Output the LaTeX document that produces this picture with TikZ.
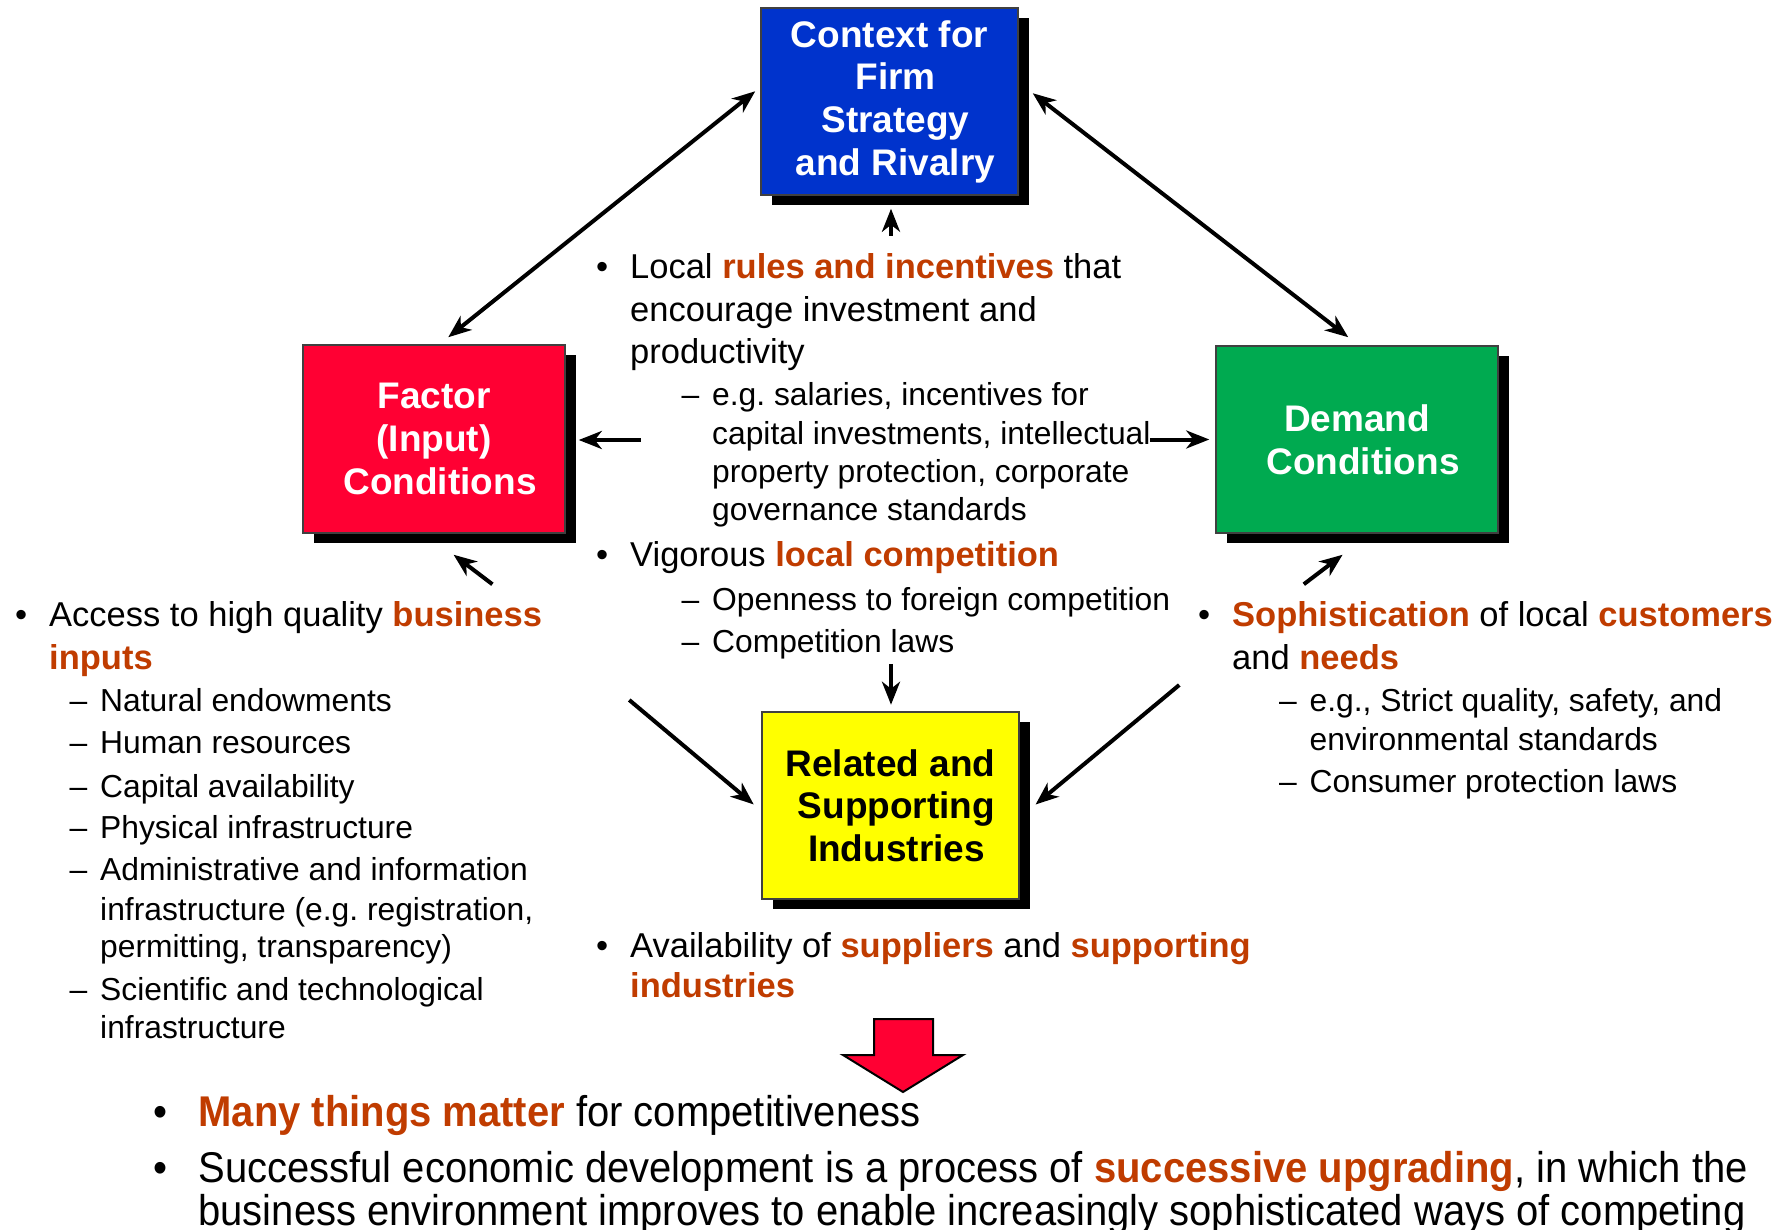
\documentclass[tikz,border=0pt]{standalone}
\usepackage{fontspec}
\setmainfont{Liberation Sans}
\newfontfamily\narrowsans[FakeStretch=0.93]{Liberation Sans}
\usetikzlibrary{arrows.meta,shadows}
\definecolor{rivalryblue}{RGB}{0,51,204}
\definecolor{factorred}{RGB}{255,0,51}
\definecolor{demandgreen}{RGB}{0,170,80}
\definecolor{relatedyellow}{RGB}{255,255,0}
\definecolor{hot}{RGB}{192,60,0}
\frenchspacing

\begin{document}
\begin{tikzpicture}[x=1pt,y=-1pt,
  box/.style={draw=black!75, line width=1.5pt, align=center, inner sep=0pt,
    font=\bfseries\fontsize{37}{42.7}\selectfont,
    drop shadow={shadow xshift=10.5pt, shadow yshift=-10pt, opacity=1, fill=black}},
  main/.style={anchor=base west, inner sep=0pt, yshift=-2.3pt, font=\fontsize{34.5}{41}\selectfont},
  sub/.style={anchor=base west, inner sep=0pt, yshift=-2.3pt, font=\fontsize{31.8}{38}\selectfont},
  closing/.style={anchor=base west, inner sep=0pt, yshift=-2.3pt, font=\narrowsans\fontsize{43}{43}\selectfont},
  arr/.style={line width=4pt, -{Stealth[length=23pt, width=18pt, inset=7pt]}},
  twoway/.style={line width=4pt, {Stealth[length=23pt, width=18pt, inset=7pt]}-{Stealth[length=23pt, width=18pt, inset=7pt]}}]

\def\hilite#1{{\bfseries\color{hot}#1}}
\def\bulmark{\llap{\textbullet\hspace{22pt}}}
\def\bigbul{\llap{\textbullet\hspace{31pt}}}
\def\subdash{\llap{\textendash\hspace{13pt}}}
\def\nudge{\hspace*{12pt}}

\fill[white] (0,0) rectangle (1787,1230);
\useasboundingbox (0,0) rectangle (1787,1230);

\node[box, fill=rivalryblue, text=white, minimum width=257pt, minimum height=187pt] (rivalry) at (889.5,101.5) {Context for\\\nudge Firm\\\nudge Strategy\\\nudge and Rivalry};
\node[box, fill=factorred, text=white, minimum width=262pt, minimum height=188pt] (factor) at (434,439) {Factor\\(Input)\\\nudge Conditions};
\node[box, fill=demandgreen, text=white, minimum width=282pt, minimum height=187pt] (demand) at (1357,439.5) {Demand\\\nudge Conditions};
\node[box, fill=relatedyellow, text=black, minimum width=257pt, minimum height=187pt] (related) at (890.5,805.5) {Related and\\\nudge Supporting\\\nudge Industries};

\node[main] (c1) at (630,276) {\bulmark Local \hilite{rules and incentives} that};
\node[main] (c2) at (630,319) {encourage investment and};
\node[main] (c3) at (630,361) {productivity};
\node[sub] (c4) at (712,403) {\subdash e.g. salaries, incentives for};
\node[sub] (c5) at (712,442.5) {capital investments, intellectual};
\node[sub] (c6) at (712,480) {property protection, corporate};
\node[sub] (c7) at (712,518.5) {governance standards};
\node[main] (c8) at (630,564) {\bulmark Vigorous \hilite{local competition}};
\node[sub] (c9) at (712,608) {\subdash Openness to foreign competition};
\node[sub] (c10) at (712,650) {\subdash Competition laws};

\node[main] (f1) at (49,624.5) {\bulmark Access to high quality \hilite{business}};
\node[main] (f2) at (49,667) {\hilite{inputs}};
\node[sub] (f3) at (100,709) {\subdash Natural endowments};
\node[sub] (f4) at (100,751.5) {\subdash Human resources};
\node[sub] (f5) at (100,795) {\subdash Capital availability};
\node[sub] (f6) at (100,836) {\subdash Physical infrastructure};
\node[sub] (f7) at (100,878) {\subdash Administrative and information};
\node[sub] (f8) at (100,918) {infrastructure (e.g. registration,};
\node[sub] (f9) at (100,955.5) {permitting, transparency)};
\node[sub] (f10) at (100,997.7) {\subdash Scientific and technological};
\node[sub] (f11) at (100,1036.4) {infrastructure};

\node[main] (d1) at (1232,624.5) {\bulmark \hilite{Sophistication} of local \hilite{customers}};
\node[main] (d2) at (1232,667) {and \hilite{needs}};
\node[sub] (d3) at (1309.5,709) {\subdash e.g., Strict quality, safety, and};
\node[sub] (d4) at (1309.5,748) {environmental standards};
\node[sub] (d5) at (1309.5,790) {\subdash Consumer protection laws};

\node[main] (r1) at (630,955) {\bulmark Availability of \hilite{suppliers} and \hilite{supporting}};
\node[main] (r2) at (630,995) {\hilite{industries}};

\draw[fill=factorred, line width=2pt] (874,1019) -- (933,1019) -- (933,1055) -- (963,1055) -- (903,1092) -- (843,1055) -- (874,1055) -- cycle;

\node[closing] (m1) at (198.3,1124) {\bigbul \hilite{Many things matter} for competitiveness};
\node[closing] (m2) at (198.3,1180) {\bigbul Successful economic development is a process of \hilite{successive upgrading}, in which the};
\node[closing] (m3) at (198.3,1223) {business environment improves to enable increasingly sophisticated ways of competing};

\draw[twoway] ([shift={(146,-7)}]factor.north west) -- ([shift={(-5,84)}]rivalry.north west);
\draw[twoway] ([shift={(14,86)}]rivalry.north east) -- ([shift={(133,-8)}]demand.north west);
\draw[arr] ([shift={(1.5,40)}]rivalry.south) -- ([shift={(1.5,13)}]rivalry.south);
\draw[arr] ([shift={(75,1)}]factor.east) -- ([shift={(13,1)}]factor.east);
\draw[arr] ([shift={(-65,0)}]demand.west) -- ([shift={(-6,0)}]demand.west);
\draw[arr] ([shift={(58.4,50.5)}]factor.south) -- ([shift={(19.6,21)}]factor.south);
\draw[arr] ([shift={(-53.2,50.5)}]demand.south) -- ([shift={(-14.4,21)}]demand.south);
\draw[arr] ([shift={(0.5,-47.5)}]related.north) -- ([shift={(0.5,-6.5)}]related.north);
\draw[arr] ([shift={(-132,-105.5)}]related.west) -- ([shift={(-7.5,-1)}]related.west);
\draw[arr] ([shift={(159.5,-120.5)}]related.east) -- ([shift={(15.8,-1)}]related.east);

\end{tikzpicture}
\end{document}
